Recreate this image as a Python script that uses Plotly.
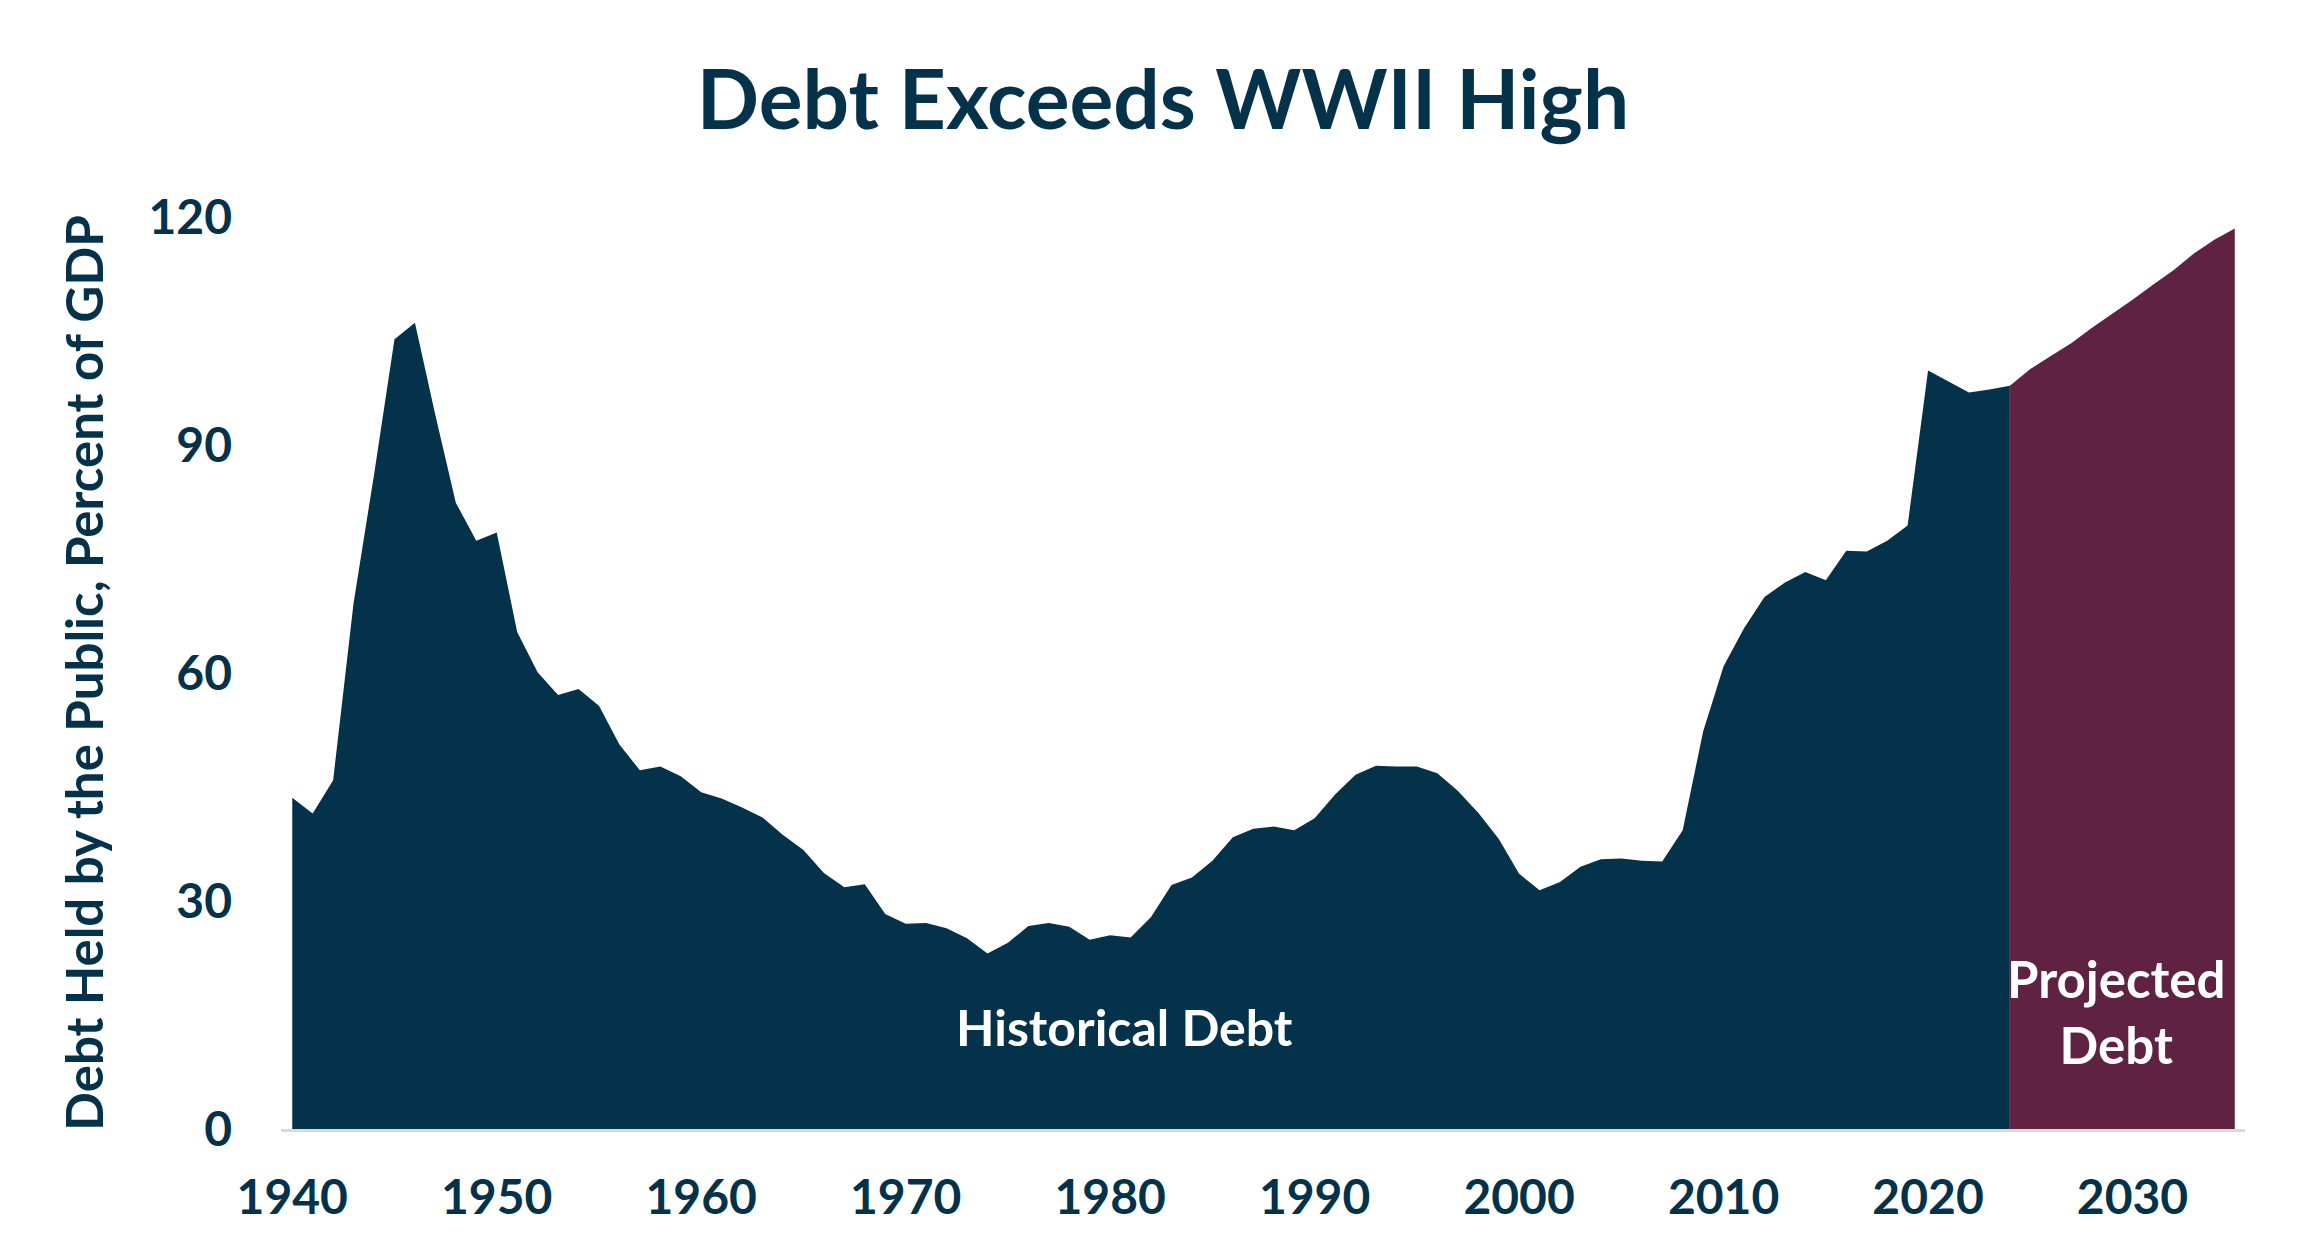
import plotly.graph_objects as go

# debt held by the public, percent of GDP
hist_years = list(range(1940, 2025))
hist_debt = [
    43.6, 41.5, 45.9, 69.2, 86.1, 103.9, 106.1, 93.9, 82.4, 77.4,
    78.5, 65.4, 60.1, 57.1, 57.9, 55.7, 50.6, 47.2, 47.7, 46.4,
    44.3, 43.5, 42.3, 41.0, 38.7, 36.7, 33.7, 31.8, 32.2, 28.3,
    27.0, 27.1, 26.4, 25.1, 23.1, 24.5, 26.7, 27.1, 26.6, 24.9,
    25.5, 25.2, 27.9, 32.1, 33.1, 35.3, 38.4, 39.5, 39.8, 39.3,
    40.9, 44.0, 46.6, 47.8, 47.7, 47.7, 46.8, 44.5, 41.6, 38.2,
    33.6, 31.4, 32.5, 34.5, 35.5, 35.6, 35.3, 35.2, 39.3, 52.3,
    60.9, 65.9, 70.0, 71.9, 73.3, 72.2, 76.1, 76.0, 77.4, 79.4,
    99.8, 98.4, 96.9, 97.3, 97.8,
]

proj_years = list(range(2024, 2036))
proj_debt = [97.8, 100.0, 101.7, 103.4, 105.4, 107.2, 109.1, 111.1, 113.0, 115.2, 117.0, 118.5]

x_ticks = [1940, 1950, 1960, 1970, 1980, 1990, 2000, 2010, 2020, 2030]
y_ticks = [0, 30, 60, 90, 120]

navy = "#03324A"
maroon = "#602242"
font_name = "Lato"

fig = go.Figure()

fig.add_trace(go.Scatter(
    x=hist_years, y=hist_debt,
    mode="lines", fill="tozeroy",
    line=dict(width=0, color=navy),
    fillcolor=navy,
    name="Historical Debt",
))

fig.add_trace(go.Scatter(
    x=proj_years, y=proj_debt,
    mode="lines", fill="tozeroy",
    line=dict(width=0, color=maroon),
    fillcolor=maroon,
    name="Projected Debt",
))

fig.add_annotation(
    x=1980.7, y=13.4, text="Historical Debt", showarrow=False,
    font=dict(family=font_name, size=50, color="white", weight="bold"),
)
fig.add_annotation(
    x=2029.2, y=15.4, text="Projected<br>Debt", showarrow=False,
    font=dict(family=font_name, size=51, color="white", weight="bold"),
)

fig.update_layout(
    width=2310, height=1254,
    margin=dict(l=273, r=73, t=209, b=133),
    paper_bgcolor="white",
    plot_bgcolor="white",
    showlegend=False,
    font=dict(family=font_name, color=navy),
    title=dict(
        text="Debt Exceeds WWII High",
        x=0.5, xanchor="center",
        y=0.9266, yanchor="middle",
        xref="container", yref="container",
        font=dict(family=font_name, size=82, color=navy, weight="bold"),
    ),
    xaxis=dict(
        range=[1939.45, 2035.5],
        tickvals=x_ticks,
        showgrid=False, zeroline=False,
        showline=True, linecolor="#D9D9D9", linewidth=3,
        ticks="",
        ticklabelstandoff=24,
        tickfont=dict(family=font_name, size=48, color=navy, weight="bold"),
    ),
    yaxis=dict(
        range=[0, 120],
        tickvals=y_ticks,
        showgrid=False, zeroline=False, showline=False,
        ticks="",
        ticklabelstandoff=48,
        tickfont=dict(family=font_name, size=48, color=navy, weight="bold"),
        title=dict(
            text="Debt Held by the Public, Percent of GDP",
            standoff=28,
            font=dict(family=font_name, size=51, color=navy, weight="bold"),
        ),
    ),
)

fig.write_html("out.html")
